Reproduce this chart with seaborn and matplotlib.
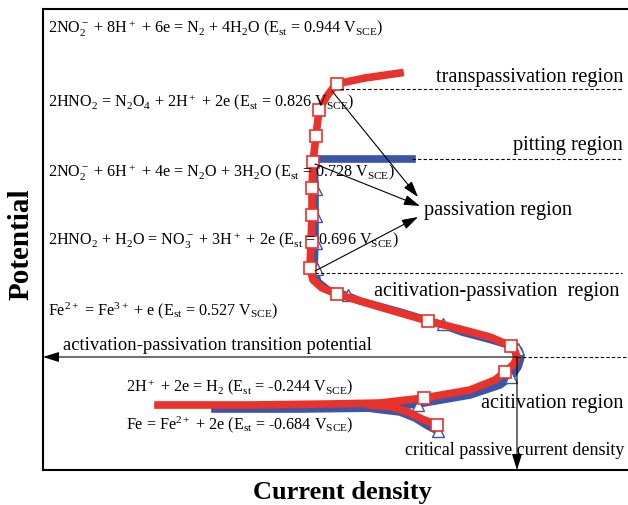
import numpy as np
import pandas as pd
import seaborn as sns
import matplotlib
import matplotlib.pyplot as plt

# schematic polarization curve, arbitrary units (x: current density, y: potential)
red_x = [115, 207, 287, 337, 381, 427, 452, 462, 471, 474, 472, 468, 447, 417, 385, 337, 307, 294, 279, 270,
         267, 268, 269, 269, 270, 273, 276, 284, 293, 322, 357]
red_y = [65, 65, 66, 67, 72, 80, 90, 98, 106, 113, 119, 124, 133, 141, 149, 163, 172, 176, 182, 190,
         202, 228, 255, 282, 308, 334, 360, 374, 386, 392, 397]
red_branch_x = [327, 349, 365, 379, 394]
red_branch_y = [65, 63, 58, 51, 45]
red_mark_x = [294, 276, 273, 270, 269, 269, 269, 267, 294, 385, 468, 462, 381, 394]
red_mark_y = [386, 360, 334, 308, 282, 255, 228, 202, 176, 149, 124, 98, 72, 45]

blue_x = [172, 257, 337, 375, 427, 457, 468, 475, 478, 476, 472, 449, 419, 400, 357, 317, 305, 285, 275, 271,
          272, 272, 272, 271, 369]
blue_y = [61, 61, 62, 66, 75, 85, 93, 103, 113, 120, 123, 130, 138, 145, 158, 169, 174, 180, 188, 201,
          228, 255, 282, 311, 311]
blue_branch_x = [332, 357, 372, 385, 395]
blue_branch_y = [61, 58, 52, 44, 39]
blue_mark_x = [305, 400, 475, 468, 375, 395, 270, 273, 273, 273, 274]
blue_mark_y = [175, 146, 121, 93, 65, 39, 309, 281, 254, 227, 201]

equations = [
    r"2NO$_2^-$ + 8H$^+$ + 6e = N$_2$ + 4H$_2$O (E$_{st}$ = 0.944 V$_{SCE}$)",
    r"2HNO$_2$ = N$_2$O$_4$ + 2H$^+$ + 2e (E$_{st}$ = 0.826 V$_{SCE}$)",
    r"2NO$_2^-$ + 6H$^+$ + 4e = N$_2$O + 3H$_2$O (E$_{st}$ = 0.728 V$_{SCE}$)",
    r"2HNO$_2$ + H$_2$O = NO$_3^-$ + 3H$^+$ + 2e (E$_{st}$ = 0.696 V$_{SCE}$)",
    r"Fe$^{2+}$ = Fe$^{3+}$ + e (E$_{st}$ = 0.527 V$_{SCE}$)",
]
eq_y = [438, 365, 294, 226, 156]
cathodic = [r"2H$^+$ + 2e = H$_2$ (E$_{st}$ = -0.244 V$_{SCE}$)",
            r"Fe = Fe$^{2+}$ + 2e (E$_{st}$ = -0.684 V$_{SCE}$)"]
cathodic_y = [80, 42]
regions = ["transpassivation region", "pitting region", "acitivation-passivation  region", "acitivation region"]
region_x = [580, 580, 576, 580]
region_y = [389, 321, 175, 63]
region_line_y = [381, 311, 197]
region_line_x0 = [297, 369, 272]

E_pp = 113  # activation-passivation transition potential
i_crit = 474  # critical passive current density

plt.rcParams["font.family"] = ["Liberation Serif", "DejaVu Serif"]
plt.rcParams["mathtext.fontset"] = "custom"
plt.rcParams["mathtext.rm"] = "Liberation Serif"
plt.rcParams["mathtext.it"] = "Liberation Serif"
plt.rcParams["mathtext.default"] = "regular"

fig = plt.figure(figsize=(6.28, 5.06), dpi=100)
ax = fig.add_axes([43 / 628, 35 / 506, 607 / 628, 461 / 506])

red = "#e8322a"
blue = "#3a56a8"

sns.lineplot(x=blue_x, y=blue_y, sort=False, estimator=None, color=blue, lw=5.5, ax=ax)
sns.lineplot(x=blue_branch_x, y=blue_branch_y, sort=False, estimator=None, color=blue, lw=5.5, ax=ax)
ax.plot(blue_mark_x, blue_mark_y, ls="none", marker="^", ms=9, mfc="white", mec=blue, mew=1.0)
sns.lineplot(x=red_x, y=red_y, sort=False, estimator=None, color=red, lw=5.5, ax=ax)
sns.lineplot(x=red_branch_x, y=red_branch_y, sort=False, estimator=None, color=red, lw=5.5, ax=ax)
ax.plot(red_mark_x, red_mark_y, ls="none", marker="s", ms=9, mfc="white", mec=red, mew=1.2)

eq_fs = 11.6
for txt, y in zip(equations, eq_y):
    ax.text(5, y, txt, fontsize=eq_fs, va="baseline")
for txt, y in zip(cathodic, cathodic_y):
    ax.text(83, y, txt, fontsize=eq_fs, va="baseline")

reg_fs = 14.6
for txt, x, y in zip(regions, region_x, region_y):
    ax.text(x, y, txt, fontsize=reg_fs, ha="right", va="baseline")
ax.text(381, 256, "passivation region", fontsize=reg_fs, va="baseline")
ax.text(20, 121, "activation-passivation transition potential", fontsize=13.4, va="baseline")
ax.text(362, 16, "critical passive current density", fontsize=13.0, va="baseline")

for y, x0 in zip(region_line_y, region_line_x0):
    ax.plot([x0, 579], [y, y], color="black", lw=0.8, ls=(0, (3, 2)))
ax.plot([i_crit, 600], [E_pp, E_pp], color="black", lw=0.8, ls=(0, (3, 2)))

arrow = dict(arrowstyle="-|>,head_length=0.7,head_width=0.22", color="black", lw=0.8,
             mutation_scale=14, shrinkA=0, shrinkB=0)
ax.annotate("", xy=(0, E_pp), xytext=(i_crit, E_pp), arrowprops=arrow)
ax.annotate("", xy=(i_crit, 0), xytext=(i_crit, E_pp), arrowprops=arrow)
ax.annotate("", xy=(375, 273), xytext=(289, 379), arrowprops=arrow)
ax.annotate("", xy=(377, 264), xytext=(272, 306), arrowprops=arrow)
ax.annotate("", xy=(375, 253), xytext=(272, 199), arrowprops=arrow)

ax.set_xlim(0, 607)
ax.set_ylim(0, 461)
ax.set_xticks([])
ax.set_yticks([])
for s in ["left", "top", "bottom"]:
    ax.spines[s].set_linewidth(1.5)
ax.spines["right"].set_visible(False)

ax.set_xlabel("Current density", fontsize=19, fontweight="bold", va="center")
ax.set_ylabel("Potential", fontsize=21, fontweight="bold", va="center")
ax.xaxis.set_label_coords(299 / 607, -22 / 461)
ax.yaxis.set_label_coords(-22 / 607, 227 / 461)

fig.savefig("out.png", dpi=100)
